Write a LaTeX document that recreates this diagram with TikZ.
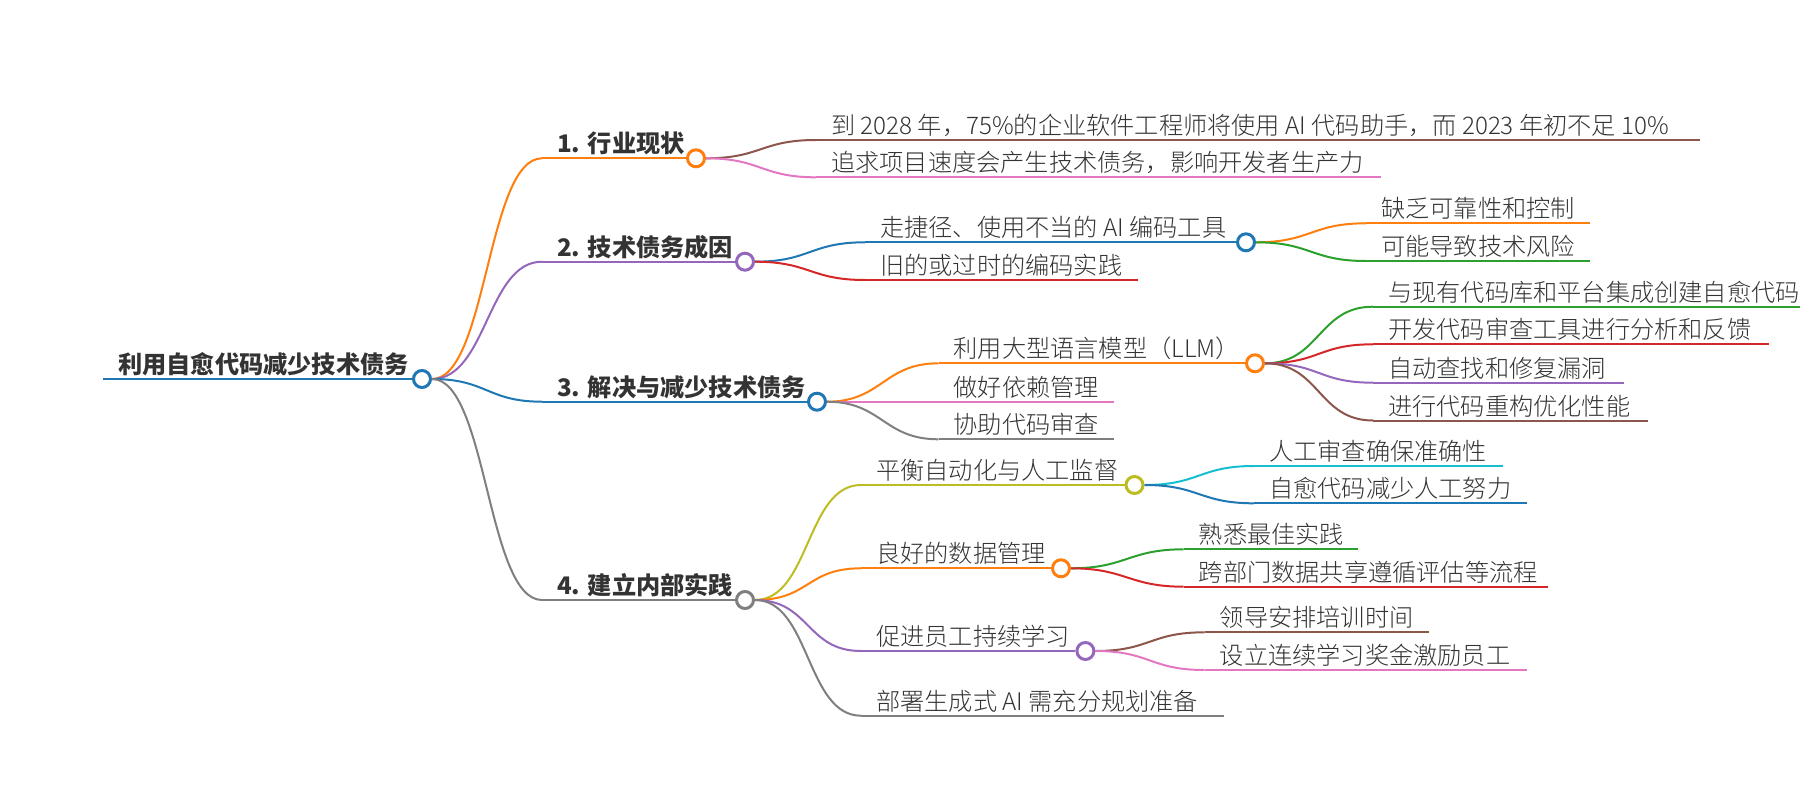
\documentclass[tikz,border=0pt]{standalone}
\usepackage{fontspec}
\setmainfont{Noto Sans CJK SC}
\newfontfamily\mmlight{Noto Sans CJK SC}[UprightFont=* Light]
\definecolor{mblue}{HTML}{1F77B4}
\definecolor{morange}{HTML}{FF7F0E}
\definecolor{mgreen}{HTML}{2CA02C}
\definecolor{mred}{HTML}{D62728}
\definecolor{mpurple}{HTML}{9467BD}
\definecolor{mbrown}{HTML}{8C564B}
\definecolor{mpink}{HTML}{E377C2}
\definecolor{mgrey}{HTML}{7F7F7F}
\definecolor{molive}{HTML}{BCBD22}
\definecolor{mcyan}{HTML}{17BECF}
\definecolor{textc}{HTML}{333333}
\tikzset{
  mmline/.style={line width=2pt},
  leaftext/.style={font=\fontsize{24.2}{29}\selectfont\mmlight, text=textc, inner sep=0pt, anchor=base west},
  boldtext/.style={leaftext, font=\fontsize{24.2}{29}\selectfont\bfseries},
  dotc/.style={circle, line width=2pt, fill=white, minimum size=18pt, inner sep=0pt},
  mmedge/.style={mmline}
}
% leaf: name, colour, start x, y, end x, text
\newcommand{\mmleaf}[6]{%
  \coordinate (#1) at (#3,#4);
  \coordinate (#1e) at (#5,#4);
  \draw[mmline, #2] (#1) -- (#1e);
  \node[leaftext] (#1t) at ({#3+15},{#4-5.5}) {#6};
}
% branch: name, colour, start x, y, circle x, text, style
\newcommand{\mmbranch}[7]{%
  \coordinate (#1s) at (#3,#4);
  \node[dotc, draw=#2] (#1) at (#5,#4) {};
  \draw[mmline, #2] (#1s) -- (#1.west);
  \node[#7] (#1t) at ({#3+15},{#4-5.5}) {#6};
}
\newcommand{\mmedge}[3]{%
  \draw[mmedge, #1] (#2.east) .. controls +(55,0) and +(-55,0) .. (#3);
}
\begin{document}
\begin{tikzpicture}[x=1pt, y=-1pt]
\useasboundingbox (0,0) rectangle (1800,800);

% root
\coordinate (roots) at (103,379);
\node[dotc, draw=mblue] (root) at (422,379) {};
\draw[mmline, mblue, line width=2.5pt] (roots) -- (root.west);
\node[boldtext] (roott) at (118,373.5) {利用自愈代码减少技术债务};

% level 1
\mmbranch{n1}{morange}{542}{158.3}{696}{1. 行业现状}{boldtext}
\mmbranch{n2}{mpurple}{542}{261.7}{745}{2. 技术债务成因}{boldtext}
\mmbranch{n3}{mblue}{542}{401.7}{817}{3. 解决与减少技术债务}{boldtext}
\mmbranch{n4}{mgrey}{542}{600}{745}{4. 建立内部实践}{boldtext}
\mmedge{morange}{root}{n1s}
\mmedge{mpurple}{root}{n2s}
\mmedge{mblue}{root}{n3s}
\mmedge{mgrey}{root}{n4s}

% branch 1
\mmleaf{n1a}{mbrown}{816}{140}{1699.6}{到 2028 年，75\%的企业软件工程师将使用 AI 代码助手，而 2023 年初不足 10\%}
\mmleaf{n1b}{mpink}{816}{177.3}{1381}{追求项目速度会产生技术债务，影响开发者生产力}
\mmedge{mbrown}{n1}{n1a}
\mmedge{mpink}{n1}{n1b}

% branch 2
\mmbranch{n2a}{mblue}{865}{242.3}{1246}{走捷径、使用不当的 AI 编码工具}{leaftext}
\mmleaf{n2b}{mred}{865}{280}{1138.4}{旧的或过时的编码实践}
\mmedge{mblue}{n2}{n2as}
\mmedge{mred}{n2}{n2b}
\mmleaf{n2a1}{morange}{1366}{223.3}{1589.5}{缺乏可靠性和控制}
\mmleaf{n2a2}{mgreen}{1366}{261}{1589.5}{可能导致技术风险}
\mmedge{morange}{n2a}{n2a1}
\mmedge{mgreen}{n2a}{n2a2}

% branch 3
\mmbranch{n3a}{morange}{938.5}{363.3}{1255}{利用大型语言模型（LLM）}{leaftext}
\mmleaf{n3b}{mpink}{938.5}{401.7}{1114}{做好依赖管理}
\mmleaf{n3c}{mgrey}{938.5}{439.3}{1113.5}{协助代码审查}
\mmedge{morange}{n3}{n3as}
\mmedge{mpink}{n3}{n3b}
\mmedge{mgrey}{n3}{n3c}
\mmleaf{n3a1}{mgreen}{1373}{306.7}{1800}{与现有代码库和平台集成创建自愈代码}
\mmleaf{n3a2}{mred}{1373}{344.3}{1769}{开发代码审查工具进行分析和反馈}
\mmleaf{n3a3}{mpurple}{1373}{382.7}{1624}{自动查找和修复漏洞}
\mmleaf{n3a4}{mbrown}{1373}{420.5}{1648}{进行代码重构优化性能}
\mmedge{mgreen}{n3a}{n3a1}
\mmedge{mred}{n3a}{n3a2}
\mmedge{mpurple}{n3a}{n3a3}
\mmedge{mbrown}{n3a}{n3a4}

% branch 4
\mmbranch{n4a}{molive}{861}{485}{1134.5}{平衡自动化与人工监督}{leaftext}
\mmbranch{n4b}{morange}{861}{568.3}{1061}{良好的数据管理}{leaftext}
\mmbranch{n4c}{mpurple}{861}{651}{1085.4}{促进员工持续学习}{leaftext}
\mmleaf{n4d}{mgrey}{861}{715.7}{1224.3}{部署生成式 AI 需充分规划准备}
\mmedge{molive}{n4}{n4as}
\mmedge{morange}{n4}{n4bs}
\mmedge{mpurple}{n4}{n4cs}
\mmedge{mgrey}{n4}{n4d}
\mmleaf{n4a1}{mcyan}{1254}{466}{1503}{人工审查确保准确性}
\mmleaf{n4a2}{mblue}{1254}{503.3}{1527}{自愈代码减少人工努力}
\mmedge{mcyan}{n4a}{n4a1}
\mmedge{mblue}{n4a}{n4a2}
\mmleaf{n4b1}{mgreen}{1183.6}{549.3}{1357.6}{熟悉最佳实践}
\mmleaf{n4b2}{mred}{1183.6}{586.7}{1548}{跨部门数据共享遵循评估等流程}
\mmedge{mgreen}{n4b}{n4b1}
\mmedge{mred}{n4b}{n4b2}
\mmleaf{n4c1}{mbrown}{1204.6}{632.3}{1429}{领导安排培训时间}
\mmleaf{n4c2}{mpink}{1204.6}{670}{1527}{设立连续学习奖金激励员工}
\mmedge{mbrown}{n4c}{n4c1}
\mmedge{mpink}{n4c}{n4c2}

% redraw circles on top
\foreach \nn/\cc in {root/mblue,n1/morange,n2/mpurple,n3/mblue,n4/mgrey,n2a/mblue,n3a/morange,n4a/molive,n4b/morange,n4c/mpurple}{
  \draw[\cc, line width=2pt, fill=white] (\nn) circle (8pt);
}
\end{tikzpicture}
\end{document}
